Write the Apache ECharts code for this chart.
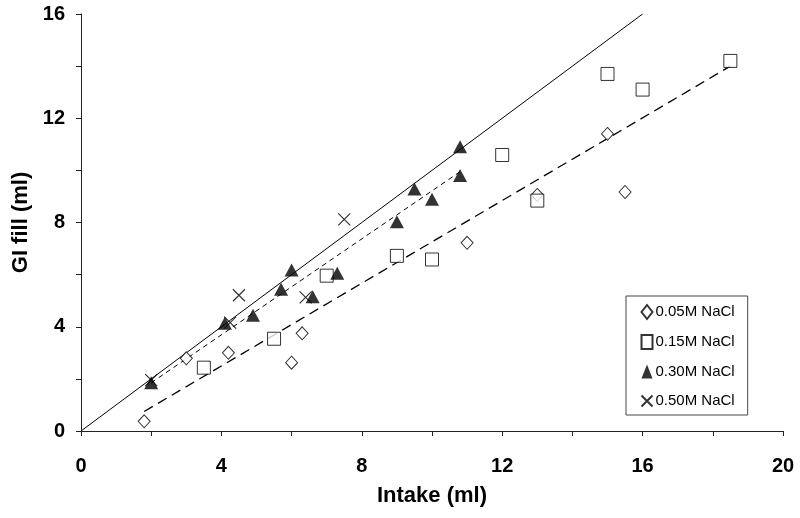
<!DOCTYPE html>
<html>
<head>
<meta charset="utf-8">
<script src="https://cdn.jsdelivr.net/npm/echarts@6/dist/echarts.min.js"></script>
<style>
  html, body { margin: 0; padding: 0; background: #fff; }
  #chart { width: 800px; height: 518px; }
</style>
</head>
<body>
<div id="chart"></div>
<script>
// Data
const seriesNames = ['0.05M NaCl', '0.15M NaCl', '0.30M NaCl', '0.50M NaCl'];
const nacl005 = [[1.8,0.37],[3.0,2.79],[4.2,3.0],[6.0,2.62],[6.3,3.75],[11.0,7.22],[13.0,9.06],[15.0,11.4],[15.5,9.17]];
const nacl015 = [[3.5,2.43],[5.5,3.54],[7.0,5.96],[9.0,6.72],[10.0,6.58],[12.0,10.59],[13.0,8.84],[15.0,13.7],[16.0,13.1],[18.5,14.2]];
const nacl030 = [[2.0,1.85],[4.1,4.13],[4.9,4.44],[5.7,5.44],[6.0,6.18],[6.6,5.15],[7.3,6.05],[9.0,8.03],[9.5,9.29],[10.0,8.89],[10.8,10.91],[10.8,9.8]];
const nacl050 = [[2.0,1.95],[4.25,4.16],[4.5,5.21],[6.4,5.13],[7.5,8.12]];
const identityLine = [[0,0],[16,16]];
const fitLow = [[1.8,0.75],[18.5,14.0]];
const fitHigh = [[2.0,1.85],[10.8,9.95]];
const xTicks = [0, 4, 8, 12, 16, 20];
const yTicks = [0, 4, 8, 12, 16];

const FONT = "'Liberation Sans', Arial, sans-serif";
const xPath = 'path://M0,0L10,10M10,0L0,10';

const chart = echarts.init(document.getElementById('chart'), null, {renderer: 'canvas'});
const axisCommon = {
  axisLine: {show: true, lineStyle: {color: '#222', width: 1}},
  axisTick: {show: true, inside: false, length: 5, lineStyle: {color: '#222'}},
  splitLine: {show: false},
  nameTextStyle: {fontFamily: FONT, fontWeight: 'bold', fontSize: 22, color: '#000'}
};
chart.setOption({
  animation: false,
  backgroundColor: '#fff',
  grid: {left: 81, right: 17, top: 14, bottom: 87, containLabel: false},
  xAxis: Object.assign({}, axisCommon, {
    type: 'value', min: 0, max: 20, interval: 2,
    name: 'Intake (ml)', nameLocation: 'middle', nameGap: 54,
    axisLabel: {margin: 25, fontFamily: FONT, fontWeight: 'bold', fontSize: 20, color: '#000',
      formatter: v => xTicks.indexOf(v) >= 0 ? String(v) : ''}
  }),
  yAxis: Object.assign({}, axisCommon, {
    type: 'value', min: 0, max: 16, interval: 2,
    name: 'GI fill (ml)', nameLocation: 'middle', nameGap: 49,
    axisLabel: {margin: 16, fontFamily: FONT, fontWeight: 'bold', fontSize: 20, color: '#000',
      formatter: v => yTicks.indexOf(v) >= 0 ? String(v) : ''}
  }),
  legend: {
    data: seriesNames,
    orient: 'vertical', left: 626, top: 296,
    itemWidth: 11, itemHeight: 14, itemGap: 14,
    padding: [8, 13, 6, 13],
    borderColor: '#444', borderWidth: 1, backgroundColor: '#fff',
    textStyle: {fontFamily: FONT, fontSize: 15, lineHeight: 14, color: '#000', padding: [0,0,0,-2]}
  },
  series: [
    {type: 'line', data: identityLine, symbol: 'none', silent: true,
      lineStyle: {color: '#000', width: 1, type: 'solid'}, z: 1},
    {type: 'line', data: fitLow, symbol: 'none', silent: true,
      lineStyle: {color: '#000', width: 1.3, type: [10, 6]}, z: 1},
    {type: 'line', data: fitHigh, symbol: 'none', silent: true,
      lineStyle: {color: '#000', width: 1, type: [5, 4]}, z: 1},
    {name: seriesNames[0], type: 'scatter', data: nacl005, symbol: 'diamond', symbolSize: [12, 13],
      itemStyle: {color: '#fff', borderColor: '#000', borderWidth: 1}, z: 3},
    {name: seriesNames[1], type: 'scatter', data: nacl015, symbol: 'rect', symbolSize: 13,
      itemStyle: {color: '#fff', borderColor: '#000', borderWidth: 1}, z: 3},
    {name: seriesNames[2], type: 'scatter', data: nacl030, symbol: 'triangle', symbolSize: [14, 13],
      itemStyle: {color: '#000', borderColor: '#000', borderWidth: 0}, z: 4},
    {name: seriesNames[3], type: 'scatter', data: nacl050, symbol: xPath, symbolSize: 12,
      itemStyle: {color: 'none', borderColor: '#000', borderWidth: 1.2}, z: 5}
  ]
});
</script>
</body>
</html>
